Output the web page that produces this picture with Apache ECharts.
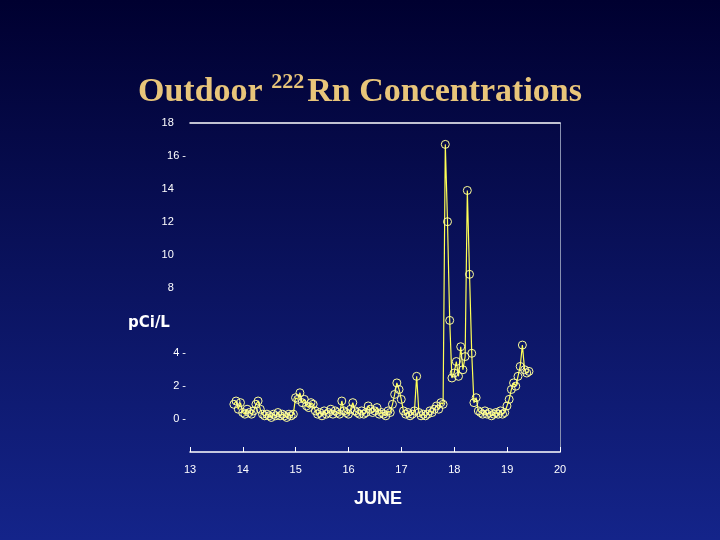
<!DOCTYPE html>
<html><head><meta charset="utf-8">
<script src="https://cdn.jsdelivr.net/npm/echarts@6/dist/echarts.min.js"></script>
<style>html,body{margin:0;padding:0;}#c{width:720px;height:540px;}</style>
</head><body><div id="c"></div>
<script>
var startDay = 13.83;
var stepDay = 1/24;
var radon = [
0.9,1.1,0.6,1.0,
0.4,0.3,0.6,0.4,0.3,0.5,0.9,1.1,0.6,0.3,0.2,0.3,0.2,0.1,0.3,0.2,0.4,0.2,0.3,0.2,0.1,0.3,0.2,0.3,
1.3,1.2,1.6,1.0,1.2,0.8,0.7,1.0,0.9,0.5,0.3,0.4,0.2,0.5,0.3,0.4,0.6,0.3,0.5,0.4,0.3,1.1,0.5,0.4,
0.3,0.6,1.0,0.5,0.4,0.3,0.5,0.3,0.4,0.8,0.6,0.4,0.5,0.7,0.3,0.4,0.3,0.2,0.5,0.4,0.9,1.5,2.2,1.8,
1.2,0.5,0.3,0.4,0.2,0.3,0.5,2.6,0.4,0.2,0.3,0.2,0.3,0.5,0.4,0.6,0.8,0.6,1.0,0.9,16.7,12.0,6.0,2.5,
2.8,3.5,2.6,4.4,3.0,3.8,13.9,8.8,4.0,1.0,1.3,0.5,0.4,0.3,0.5,0.3,0.4,0.2,0.3,0.4,0.3,0.5,0.3,0.4,
0.8,1.2,1.8,2.2,2.0,2.6,3.2,4.5,3.0,2.8,2.9
];
var xTicks = [13,14,15,16,17,18,19,20];
var yTicks = [0,2,4,8,10,12,14,16,18];
var yDashed = [0,2,4,16];
var data = radon.map(function(v,i){return [startDay + i*stepDay, v];});
var chart = echarts.init(document.getElementById('c'));
chart.setOption({
  backgroundColor: new echarts.graphic.LinearGradient(0,0,0,1,[{offset:0,color:'#000030'},{offset:1,color:'#14248a'}]),
  title: {
    text: '{a|Outdoor }{s|222}{a|Rn Concentrations}',
    left: 'center', top: 66,
    textStyle: {rich: {
      a: {fontFamily:'Liberation Serif', fontWeight:'bold', fontSize:34, color:'#e8c57a', verticalAlign:'bottom'},
      s: {fontFamily:'Liberation Serif', fontWeight:'bold', fontSize:22, color:'#e8c57a', verticalAlign:'top', padding:[0,3,16,0]}
    }}
  },
  graphic: [
    {type:'text', left:128, top:316, style:{text:'pCi/L', fill:'#ffffff', font:'bold 15px "DejaVu Sans"'}},
    {type:'text', left:354, top:490, style:{text:'JUNE', fill:'#ffffff', font:'bold 18px "Liberation Sans"'}}
  ],
  grid: {left:190, right:160, top:123, bottom:88},
  xAxis: [{
    type:'value', min:13, max:20, interval:1,
    axisLine:{show:true, onZero:false, lineStyle:{color:'#ffffff', width:1.5}},
    axisTick:{show:true, inside:true, length:5, lineStyle:{color:'#ffffff'}},
    axisLabel:{color:'#ffffff', fontFamily:'Liberation Sans', fontSize:11, margin:12,
      formatter:function(v){return xTicks.indexOf(v)>=0 ? String(v) : '';}},
    splitLine:{show:false}
  },{
    type:'value', position:'top', min:13, max:20,
    axisLine:{show:true, onZero:false, lineStyle:{color:'#ffffff', width:1.5}},
    axisTick:{show:false}, axisLabel:{show:false}, splitLine:{show:false}
  }],
  yAxis: [{
    type:'value', min:-2, max:18, interval:2,
    axisLine:{show:false, onZero:false}, axisTick:{show:false},
    axisLabel:{color:'#ffffff', fontFamily:'Liberation Sans', fontSize:11, margin:4,
      formatter:function(v){
        if (yTicks.indexOf(v)<0) return '';
        return yDashed.indexOf(v)>=0 ? v+' -' : v+'    ';
      }},
    splitLine:{show:false}
  },{
    type:'value', position:'right', min:-2, max:18,
    axisLine:{show:true, onZero:false, lineStyle:{color:'#8890b0', width:1}},
    axisTick:{show:false}, axisLabel:{show:false}, splitLine:{show:false}
  }],
  series: [{
    type:'line', data:data,
    symbol:'circle', symbolSize:8,
    lineStyle:{color:'#ffff55', width:1.2},
    itemStyle:{color:'rgba(0,0,0,0)', borderColor:'#ffff99', borderWidth:1},
    animation:false
  }]
});
</script></body></html>
